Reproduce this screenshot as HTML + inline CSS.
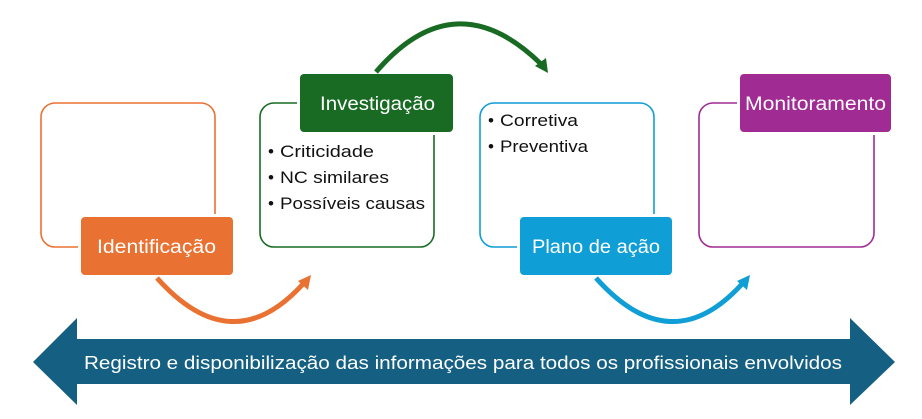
<!DOCTYPE html>
<html><head><meta charset="utf-8"><style>
body{margin:0;background:#fff;}
svg{display:block;font-family:"Liberation Sans",sans-serif;}
</style></head><body>
<svg width="922" height="419" viewBox="0 0 922 419" xmlns="http://www.w3.org/2000/svg">
<rect x="41" y="103" width="174" height="144" rx="14" fill="#fff" stroke="#E97132" stroke-width="1.6"/>
<rect x="260" y="103" width="174" height="144" rx="14" fill="#fff" stroke="#196B24" stroke-width="1.6"/>
<rect x="480" y="103" width="174" height="144" rx="14" fill="#fff" stroke="#0F9ED5" stroke-width="1.6"/>
<rect x="699" y="103" width="175" height="144" rx="14" fill="#fff" stroke="#A02B93" stroke-width="1.6"/>
<rect x="78" y="214" width="158" height="64" fill="#fff"/>
<rect x="297" y="71" width="159" height="64" fill="#fff"/>
<rect x="517" y="214" width="158" height="64" fill="#fff"/>
<rect x="737" y="71" width="157" height="64" fill="#fff"/>
<rect x="81" y="217" width="152" height="58" rx="4" fill="#E97132"/>
<rect x="300" y="74" width="153" height="58" rx="4" fill="#196B24"/>
<rect x="520" y="217" width="152" height="58" rx="4" fill="#0F9ED5"/>
<rect x="740" y="74" width="151" height="58" rx="4" fill="#A02B93"/>
<g fill="#fff" font-size="19">
<text x="97" y="253" textLength="119" lengthAdjust="spacingAndGlyphs">Identificação</text>
<text x="320" y="110" textLength="115" lengthAdjust="spacingAndGlyphs">Investigação</text>
<text x="532" y="253" textLength="128" lengthAdjust="spacingAndGlyphs">Plano de ação</text>
<text x="745" y="110" textLength="141" lengthAdjust="spacingAndGlyphs">Monitoramento</text>
</g>
<g fill="#111" font-size="17">
<text x="268" y="157">•</text><text x="280" y="157" textLength="94" lengthAdjust="spacingAndGlyphs">Criticidade</text>
<text x="268" y="183">•</text><text x="280" y="183" textLength="109" lengthAdjust="spacingAndGlyphs">NC similares</text>
<text x="268" y="209">•</text><text x="280" y="209" textLength="145" lengthAdjust="spacingAndGlyphs">Possíveis causas</text>
<text x="488" y="126">•</text><text x="500" y="126" textLength="78" lengthAdjust="spacingAndGlyphs">Corretiva</text>
<text x="488" y="152">•</text><text x="500" y="152" textLength="88" lengthAdjust="spacingAndGlyphs">Preventiva</text>
</g>
<path d="M157,278 Q232,362 303,284" fill="none" stroke="#E97132" stroke-width="5"/>
<polygon points="311,275 298,281 308,290" fill="#E97132"/>
<path d="M376,72 Q455,-20 541,64" fill="none" stroke="#196B24" stroke-width="5"/>
<polygon points="548,73 535,66 546,58" fill="#196B24"/>
<path d="M596,278 Q671,362 742,284" fill="none" stroke="#0F9ED5" stroke-width="5"/>
<polygon points="750,275 737,281 747,290" fill="#0F9ED5"/>
<polygon points="33,362 77,318 77,339 850,339 850,318 895,362 850,405 850,384 77,384 77,405" fill="#156082"/>
<text x="84" y="369" fill="#fff" font-size="18" textLength="758" lengthAdjust="spacingAndGlyphs">Registro e disponibilização das informações para todos os profissionais envolvidos</text>
</svg>
</body></html>
